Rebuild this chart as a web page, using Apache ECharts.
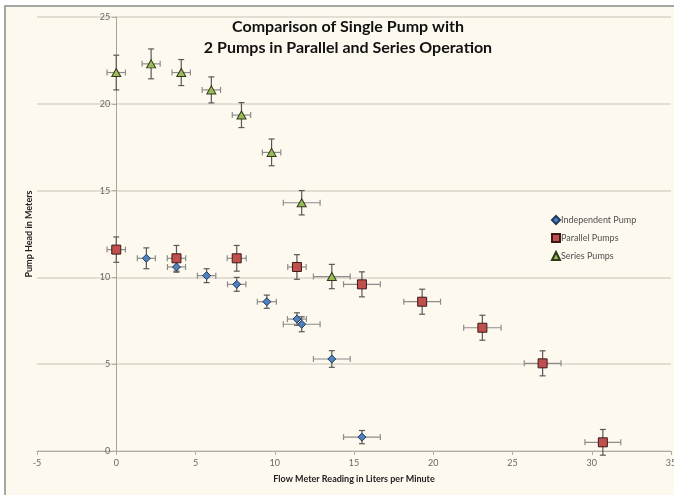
<!DOCTYPE html>
<html>
<head>
<meta charset="utf-8">
<script src="https://cdn.jsdelivr.net/npm/echarts@6/dist/echarts.min.js"></script>
<style>
  html, body { margin: 0; padding: 0; background: #ffffff; }
  #chart { width: 674px; height: 495px; }
</style>
</head>
<body>
<div id="chart"></div>
<script>
// ---- Data ----
const titleLines = ["Comparison of Single Pump with", "2 Pumps in Parallel and Series Operation"];
const xAxisTitle = "Flow Meter Reading in Liters per Minute";
const yAxisTitle = "Pump Head in Meters";
const seriesNames = ["Independent Pump", "Parallel Pumps", "Series Pumps"];

// Independent Pump
const indepX    = [1.9, 3.8, 5.7, 7.6, 9.5, 11.4, 11.7, 13.6, 15.5];
const indepY    = [11.1, 10.6, 10.1, 9.6, 8.6, 7.6, 7.3, 5.3, 0.8];
const indepXErr = [0.57, 0.57, 0.58, 0.58, 0.6, 0.6, 1.16, 1.16, 1.16];
const indepYErr = [0.6, 0.3, 0.4, 0.4, 0.38, 0.36, 0.43, 0.48, 0.38];

// Parallel Pumps
const parX    = [0, 3.8, 7.6, 11.4, 15.5, 19.3, 23.1, 26.9, 30.7];
const parY    = [11.6, 11.1, 11.1, 10.6, 9.6, 8.6, 7.1, 5.05, 0.5];
const parXErr = [0.58, 0.58, 0.6, 0.58, 1.16, 1.16, 1.18, 1.16, 1.13];
const parYErr = [0.73, 0.74, 0.74, 0.71, 0.72, 0.72, 0.72, 0.72, 0.74];

// Series Pumps
const serX    = [0, 2.2, 4.1, 6.0, 7.9, 9.8, 11.7, 13.6];
const serY    = [21.8, 22.3, 21.8, 20.8, 19.35, 17.2, 14.3, 10.05];
const serXErr = [0.58, 0.57, 0.58, 0.58, 0.58, 0.58, 1.16, 1.16];
const serYErr = [1.0, 0.86, 0.75, 0.75, 0.72, 0.77, 0.7, 0.7];

// ---- Build ----
function rows(xs, ys, xe, ye) {
  return xs.map((x, i) => [x, ys[i], xe[i], ye[i]]);
}
const CAP = 3;
function errRender(params, api) {
  const x = api.value(0), y = api.value(1), xe = api.value(2), ye = api.value(3);
  const c = api.coord([x, y]);
  const l = api.coord([x - xe, y]), r = api.coord([x + xe, y]);
  const t = api.coord([x, y + ye]), b = api.coord([x, y - ye]);
  const hs = { stroke: '#8c8c8c', lineWidth: 1.2 };
  const vs = { stroke: '#595959', lineWidth: 1.2 };
  return {
    type: 'group',
    children: [
      { type: 'line', shape: { x1: l[0], y1: c[1], x2: r[0], y2: c[1] }, style: hs },
      { type: 'line', shape: { x1: l[0], y1: c[1] - CAP, x2: l[0], y2: c[1] + CAP }, style: hs },
      { type: 'line', shape: { x1: r[0], y1: c[1] - CAP, x2: r[0], y2: c[1] + CAP }, style: hs },
      { type: 'line', shape: { x1: c[0], y1: t[1], x2: c[0], y2: b[1] }, style: vs },
      { type: 'line', shape: { x1: c[0] - CAP, y1: t[1], x2: c[0] + CAP, y2: t[1] }, style: vs },
      { type: 'line', shape: { x1: c[0] - CAP, y1: b[1], x2: c[0] + CAP, y2: b[1] }, style: vs }
    ]
  };
}

const FONT = 'Lato, "Open Sans", sans-serif';
const chart = echarts.init(document.getElementById('chart'), null, { renderer: 'canvas' });

const GRID_LEFT = 37, GRID_RIGHT = 3;
const X_MIN = -5, X_MAX = 35;
const plotW = 674 - GRID_LEFT - GRID_RIGHT;
const zeroOffset = (0 - X_MIN) / (X_MAX - X_MIN) * plotW; // y-axis sits at x = 0

const errSeries = [
  rows(indepX, indepY, indepXErr, indepYErr),
  rows(parX, parY, parXErr, parYErr),
  rows(serX, serY, serXErr, serYErr)
].map((d, i) => ({
  type: 'custom',
  name: seriesNames[i] + ' error',
  renderItem: errRender,
  data: d,
  z: 2,
  silent: true,
  encode: { x: 0, y: 1 }
}));

const markerStyles = [
  { symbol: 'diamond', symbolSize: 8, color: '#4F81BD', border: '#1F3A5F' },
  { symbol: 'rect', symbolSize: 9, color: '#C0504D', border: '#3a1a19' },
  { symbol: 'triangle', symbolSize: [9, 8], color: '#9BBB59', border: '#2f3a1a' }
];
const pts = [
  indepX.map((x, i) => [x, indepY[i]]),
  parX.map((x, i) => [x, parY[i]]),
  serX.map((x, i) => [x, serY[i]])
];
const scatterSeries = pts.map((d, i) => ({
  type: 'scatter',
  name: seriesNames[i],
  data: d,
  symbol: markerStyles[i].symbol,
  symbolSize: markerStyles[i].symbolSize,
  itemStyle: { color: markerStyles[i].color, borderColor: markerStyles[i].border, borderWidth: 1, opacity: 1 },
  z: 5
}));

chart.setOption({
  animation: false,
  backgroundColor: '#ffffff',
  graphic: [
    { type: 'rect', shape: { x: 5, y: 6, width: 720, height: 520 }, style: { fill: '#FEF9EE', stroke: '#8a8a8a', lineWidth: 1.5 }, z: -10, silent: true }
  ],
  title: {
    text: titleLines.join('\n'),
    left: 343, textAlign: 'center',
    top: 11,
    textStyle: { fontFamily: FONT, fontSize: 16, fontWeight: 'bold', color: '#111', lineHeight: 21 }
  },
  legend: {
    data: seriesNames,
    orient: 'vertical',
    left: 546, top: 210,
    itemWidth: 8, itemHeight: 8, itemGap: 8,
    textStyle: { fontFamily: FONT, fontSize: 9, color: '#505050', padding: [0, 0, 0, -4] }
  },
  grid: { left: GRID_LEFT, right: GRID_RIGHT, top: 17, bottom: 44, outerBoundsMode: 'none', containLabel: false },
  xAxis: {
    type: 'value', min: X_MIN, max: X_MAX, interval: 5,
    name: xAxisTitle, nameLocation: 'middle', nameGap: 24,
    nameTextStyle: { fontFamily: FONT, fontSize: 9, fontWeight: 'bold', color: '#222' },
    axisLine: { onZero: false, lineStyle: { color: '#b0aca2', width: 1 } },
    axisTick: { show: true, length: 4, lineStyle: { color: '#b0aca2' } },
    axisLabel: { fontFamily: FONT, fontSize: 9, color: '#666', margin: 8 },
    splitLine: { show: false }
  },
  yAxis: {
    type: 'value', min: 0, max: 25, interval: 5,
    position: 'left', offset: -zeroOffset,
    name: yAxisTitle, nameLocation: 'middle', nameGap: zeroOffset + GRID_LEFT - 34, nameRotate: 90,
    nameTextStyle: { fontFamily: FONT, fontSize: 9, fontWeight: 'bold', color: '#222' },
    axisLine: { show: true, onZero: false, lineStyle: { color: '#a8a49a', width: 1 } },
    axisTick: { show: true, length: 4, lineStyle: { color: '#b0aca2' } },
    axisLabel: { fontFamily: FONT, fontSize: 9, color: '#666', margin: 6 },
    splitLine: { show: true, lineStyle: { color: '#d8d4c8', width: 1.5 } }
  },
  series: errSeries.concat(scatterSeries)
});
</script>
</body>
</html>
